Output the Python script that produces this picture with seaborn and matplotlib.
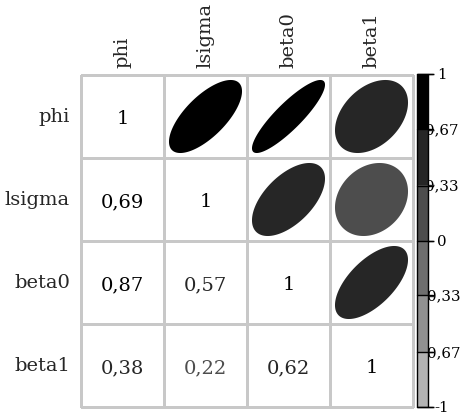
import numpy as np
import pandas as pd
import matplotlib
matplotlib.use("Agg")
import matplotlib.pyplot as plt
import matplotlib.transforms as mtransforms
import seaborn as sns
from matplotlib.patches import Polygon
from matplotlib.colors import ListedColormap, BoundaryNorm
from matplotlib.cm import ScalarMappable

# ---- data ----
variables = ["phi", "lsigma", "beta0", "beta1"]
corr_phi = [1.00, 0.69, 0.87, 0.38]
corr_lsigma = [0.69, 1.00, 0.57, 0.22]
corr_beta0 = [0.87, 0.57, 1.00, 0.62]
corr_beta1 = [0.38, 0.22, 0.62, 1.00]
cell_labels = [
    ["1", "", "", ""],
    ["0,69", "1", "", ""],
    ["0,87", "0,57", "1", ""],
    ["0,38", "0,22", "0,62", "1"],
]
legend_ticks = [-1, -0.67, -0.33, 0, 0.33, 0.67, 1]
legend_labels = ["-1", "-0,67", "-0,33", "0", "0,33", "0,67", "1"]
bin_colors = ["#B3B3B3", "#919191", "#6E6E6E", "#4D4D4D", "#262626", "#000000"]

corr = pd.DataFrame([corr_phi, corr_lsigma, corr_beta0, corr_beta1],
                    index=variables, columns=variables)

sns.set_theme(style="white")
plt.rcParams['font.family'] = ['DejaVu Serif']

W, H = 466, 414
fig = plt.figure(figsize=(W / 100, H / 100), dpi=100)
gx0, gy0, gsize = 81, 76, 332
ax = fig.add_axes([gx0 / W, 1 - (gy0 + gsize) / H, gsize / W, gsize / H])

cmap = ListedColormap(bin_colors)
bounds = np.linspace(-1, 1, len(bin_colors) + 1)
norm = BoundaryNorm(bounds, cmap.N, clip=True)

sns.heatmap(np.zeros(corr.shape), cmap=ListedColormap(["white"]), cbar=False,
            linewidths=0.75, linecolor="#C8C8C8", ax=ax,
            xticklabels=variables, yticklabels=variables)
ax.collections[0].set_clip_on(False)

fs = 14
ax.xaxis.tick_top()
ax.tick_params(axis="x", length=0, pad=6, labelsize=fs, rotation=90)
ax.tick_params(axis="y", length=0, pad=8, labelsize=fs, rotation=0)
for lab in ax.get_xticklabels():
    lab.set_va("bottom")
    lab.set_ha("center")
ax.set_xlabel("")
ax.set_ylabel("")

n = len(variables)
k = np.linspace(0, 2 * np.pi, 120)
scale = 0.88
for i in range(n):
    for j in range(n):
        r = corr.iloc[i, j]
        col = cmap(norm(r))
        if j > i:
            a = np.arccos(r)
            xs = j + 0.5 + scale * np.cos(k + a / 2) / 2
            ys = i + 0.5 - scale * np.cos(k - a / 2) / 2
            ax.add_patch(Polygon(np.column_stack([xs, ys]), closed=True,
                                 facecolor=col, edgecolor="none"))
        else:
            ax.text(j + 0.5, i + 0.52, cell_labels[i][j], ha="center", va="center",
                    fontsize=fs, color=col)

# ---- colour legend ----
cx0, cw = 417, 11
cy0, ch = 75, 333
cax = fig.add_axes([cx0 / W, 1 - (cy0 + ch) / H, cw / W, ch / H])
cb = fig.colorbar(ScalarMappable(norm=norm, cmap=cmap), cax=cax,
                  boundaries=bounds, ticks=[])
cb.outline.set_edgecolor("black")
cb.outline.set_linewidth(1.0)
cax.tick_params(length=0)
tr = mtransforms.blended_transform_factory(cax.transAxes, cax.transData)
for t, lab in zip(legend_ticks, legend_labels):
    cax.plot([0, 1.45], [t, t], color="black", lw=1.0, transform=tr,
             clip_on=False, zorder=3)
    cax.text(2.25, t, lab, ha="center", va="center", fontsize=10.8,
             transform=tr, clip_on=False, zorder=0.5, color="black")

fig.savefig("out.png", dpi=100)
